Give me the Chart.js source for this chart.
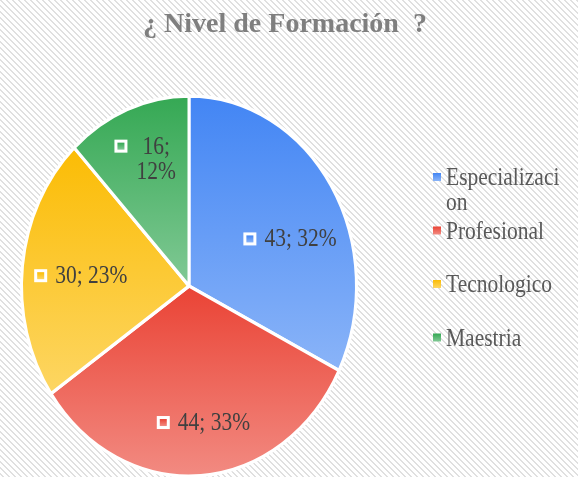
<!DOCTYPE html>
<html>
<head>
<meta charset="utf-8">
<script src="https://cdn.jsdelivr.net/npm/chart.js@4"></script>
<style>
  html, body { margin: 0; padding: 0; background: #fff; }
  canvas { display: block; }
  .precarga { position: absolute; left: -999px; top: 0; font-family: "Liberation Serif"; }
</style>
</head>
<body>
<span class="precarga">Aa <b>Bb</b></span>
<canvas id="chart" width="578" height="477"></canvas>
<script>
// datos del grafico
var categorias = ['Especializacion', 'Profesional', 'Tecnologico', 'Maestria'];
var leyendaTextos = [['Especializaci', 'on'], ['Profesional'], ['Tecnologico'], ['Maestria']];
var valores = [43, 44, 30, 16];
var porcentajes = [32, 33, 23, 12];
var titulo = '¿ Nivel de Formación  ?';

// colores (arriba -> abajo del degradado)
var coloresArriba = ['#4285f4', '#ea4335', '#fbbc04', '#34a853'];
var coloresAbajo = ['#8ab4f8', '#f28b82', '#fdd663', '#81c995'];

var ESCALA_Y = 189.5 / 167;    // el pastel se ve ovalado
var TEXTO_Y = 1.15;            // el texto tambien se ve estirado
var SERIF = '"Liberation Serif", "Times New Roman", serif';

// ajustes de etiquetas
var etiquetaRadio = 0.716;
var etiquetaAjuste = [[0, 24], [6, 2], [10, 4], [0, -2]];
var etiquetaPartir = [false, false, false, true];

function geometria(chart) {
  var a = chart.chartArea;
  return { cx: (a.left + a.right) / 2, cy: (a.top + a.bottom) / 2, r: Math.min(a.right - a.left, a.bottom - a.top) / 2 };
}

function degradado(c) {
  var chart = c.chart, i = c.dataIndex;
  if (!chart.chartArea) return coloresArriba[i];
  var g = geometria(chart);
  var total = valores.reduce(function(s, v) { return s + v; }, 0);
  var ini = 0;
  for (var k = 0; k < i; k++) ini += valores[k] / total * Math.PI * 2;
  var fin = ini + valores[i] / total * Math.PI * 2;
  // angulo medido desde arriba, en sentido horario
  var ys = [g.cy, g.cy - g.r * Math.cos(ini), g.cy - g.r * Math.cos(fin)];
  if (ini <= 0) ys.push(g.cy - g.r);
  if (ini <= Math.PI && fin >= Math.PI) ys.push(g.cy + g.r);
  var y0 = Math.min.apply(null, ys), y1 = Math.max.apply(null, ys);
  var gr = chart.ctx.createLinearGradient(0, y0, 0, y1);
  gr.addColorStop(0, coloresArriba[i]);
  gr.addColorStop(1, coloresAbajo[i]);
  return gr;
}

// fondo rayado
function patronFondo() {
  var p = document.createElement('canvas');
  p.width = 6; p.height = 6;
  var pc = p.getContext('2d');
  pc.fillStyle = '#ffffff';
  pc.fillRect(0, 0, 6, 6);
  pc.fillStyle = '#e0e0e0';
  for (var y = 0; y < 6; y++) {
    for (var x = 0; x < 6; x++) {
      var d = ((x - y) % 6 + 6) % 6;
      if (d < 2) pc.fillRect(x, y, 1, 1);
    }
  }
  return p;
}

function textoEstirado(ctx, t, x, y) {
  ctx.save();
  ctx.translate(x, y);
  ctx.scale(1, TEXTO_Y);
  ctx.fillText(t, 0, 0);
  ctx.restore();
}

var pluginFondo = {
  id: 'fondo',
  beforeDraw: function(chart) {
    var ctx = chart.ctx;
    ctx.save();
    ctx.fillStyle = ctx.createPattern(patronFondo(), 'repeat');
    ctx.fillRect(0, 0, chart.width, chart.height);
    // titulo centrado sobre todo el lienzo
    ctx.font = 'bold 28px ' + SERIF;
    ctx.fillStyle = '#7f7f7f';
    ctx.textAlign = 'center';
    ctx.textBaseline = 'middle';
    ctx.fillText(titulo, 285, 25);
    ctx.restore();
  }
};

var pluginOvalo = {
  id: 'ovalo',
  beforeDatasetsDraw: function(chart) {
    var g = geometria(chart), ctx = chart.ctx;
    ctx.save();
    ctx.translate(g.cx, g.cy);
    ctx.scale(1, ESCALA_Y);
    ctx.translate(-g.cx, -g.cy);
  },
  afterDatasetsDraw: function(chart) {
    chart.ctx.restore();
  }
};

function marcador(ctx, x, y, i, tam) {
  ctx.fillStyle = '#ffffff';
  ctx.fillRect(x, y - tam / 2, tam, tam);
  var gr = ctx.createLinearGradient(0, y - tam / 2 + 3, 0, y + tam / 2 - 3);
  gr.addColorStop(0, coloresArriba[i]);
  gr.addColorStop(1, coloresAbajo[i]);
  ctx.fillStyle = gr;
  ctx.fillRect(x + 3, y - tam / 2 + 3, tam - 6, tam - 6);
}

var pluginEtiquetas = {
  id: 'etiquetas',
  afterDatasetsDraw: function(chart) {
    var ctx = chart.ctx, meta = chart.getDatasetMeta(0), g = geometria(chart);
    ctx.save();
    ctx.font = '21.5px ' + SERIF;
    ctx.textBaseline = 'middle';
    ctx.textAlign = 'center';
    meta.data.forEach(function(arc, i) {
      var medio = (arc.startAngle + arc.endAngle) / 2;
      var x = g.cx + 166 * etiquetaRadio * Math.cos(medio) + etiquetaAjuste[i][0];
      var y = g.cy + 166 * ESCALA_Y * etiquetaRadio * Math.sin(medio) + etiquetaAjuste[i][1];
      var lineas = etiquetaPartir[i] ? [valores[i] + ';', porcentajes[i] + '%'] : [valores[i] + '; ' + porcentajes[i] + '%'];
      var anchoTexto = Math.max.apply(null, lineas.map(function(l) { return ctx.measureText(l).width; }));
      var tam = 13, sep = etiquetaPartir[i] ? 9 : 8, alto = 25;
      var ancho = tam + sep + anchoTexto;
      var izq = x - ancho / 2;
      var arriba = y - (lineas.length - 1) * alto / 2;
      marcador(ctx, izq, arriba, i, tam);
      ctx.fillStyle = '#404040';
      lineas.forEach(function(l, k) {
        textoEstirado(ctx, l, izq + tam + sep + anchoTexto / 2, arriba + k * alto + 1);
      });
    });
    ctx.restore();
  }
};

// leyenda a la derecha
var pluginLeyenda = {
  id: 'leyenda',
  afterDraw: function(chart) {
    var ctx = chart.ctx;
    var x0 = 433, y0 = 177, paso = 53.5, linea = 25;
    ctx.save();
    ctx.font = '21.5px ' + SERIF;
    ctx.textBaseline = 'middle';
    ctx.textAlign = 'left';
    leyendaTextos.forEach(function(t, i) {
      var y = y0 + i * paso;
      var gr = ctx.createLinearGradient(0, y - 4, 0, y + 4);
      gr.addColorStop(0, coloresArriba[i]);
      gr.addColorStop(1, coloresAbajo[i]);
      ctx.fillStyle = gr;
      ctx.fillRect(x0, y - 4, 8, 8);
      ctx.fillStyle = '#595959';
      t.forEach(function(l, k) { textoEstirado(ctx, l, x0 + 13, y + 2 + k * linea); });
    });
    ctx.restore();
  }
};

function dibujar() {
  new Chart(document.getElementById('chart'), {
    type: 'pie',
    data: {
      labels: categorias,
      datasets: [{
        data: valores,
        backgroundColor: degradado,
        borderColor: '#ffffff',
        borderWidth: 3
      }]
    },
    options: {
      responsive: false,
      animation: false,
      layout: { padding: { left: 20, right: 220, top: 100, bottom: 5 } },
      plugins: {
        legend: { display: false },
        tooltip: { enabled: false },
        title: { display: false }
      }
    },
    plugins: [pluginFondo, pluginOvalo, pluginEtiquetas, pluginLeyenda]
  });
}

if (document.fonts && document.fonts.load) {
  Promise.all([
    document.fonts.load('21.5px "Liberation Serif"'),
    document.fonts.load('bold 28px "Liberation Serif"')
  ]).then(dibujar, dibujar);
} else {
  dibujar();
}
</script>
</body>
</html>
